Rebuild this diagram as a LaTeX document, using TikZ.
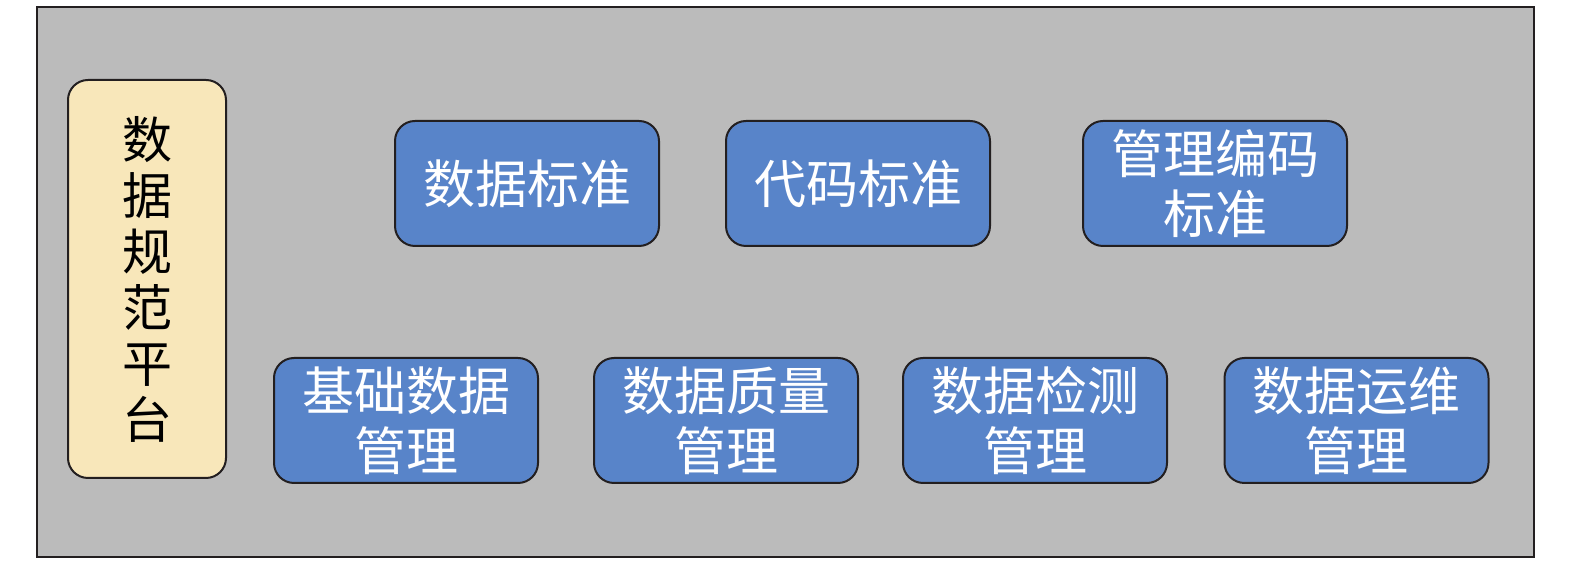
\documentclass[tikz,border=0pt]{standalone}
\usepackage{fontspec}
\newfontfamily\cjk{Noto Sans CJK SC}
\definecolor{bggrey}{HTML}{BBBBBB}
\definecolor{boxblue}{HTML}{5884C9}
\definecolor{boxyellow}{HTML}{F8E7BA}
\definecolor{edgec}{HTML}{231F20}
\tikzset{
  bluebox/.style={draw=edgec, line width=2pt, fill=boxblue, rounded corners=20pt,
    minimum width=264pt, minimum height=125pt, inner sep=0pt, text=white,
    align=center, font=\cjk\fontsize{52}{60}\selectfont},
  yellowbox/.style={draw=edgec, line width=2pt, fill=boxyellow, rounded corners=20pt,
    minimum width=158pt, minimum height=398pt, inner sep=0pt, text=black,
    align=center, font=\cjk\fontsize{50}{56}\selectfont},
}
\begin{document}
\begin{tikzpicture}[x=1pt,y=1pt]
\useasboundingbox (0,0) rectangle (1575,567);
\node[draw=edgec, line width=2.5pt, fill=bggrey, minimum width=1497pt, minimum height=550pt, inner sep=0pt] (frame) at (785.5,285) {};
\node[yellowbox] (plat) at (147,288) {数\\据\\规\\范\\平\\台};
\node[bluebox] (a1) at (527,383.5) {数据标准};
\node[bluebox] (a2) at (858,383.5) {代码标准};
\node[bluebox] (a3) at (1215,383.5) {管理编码\\标准};
\node[bluebox] (b1) at (406,146.5) {基础数据\\管理};
\node[bluebox] (b2) at (726,146.5) {数据质量\\管理};
\node[bluebox] (b3) at (1035,146.5) {数据检测\\管理};
\node[bluebox] (b4) at (1356.5,146.5) {数据运维\\管理};
\end{tikzpicture}
\end{document}
